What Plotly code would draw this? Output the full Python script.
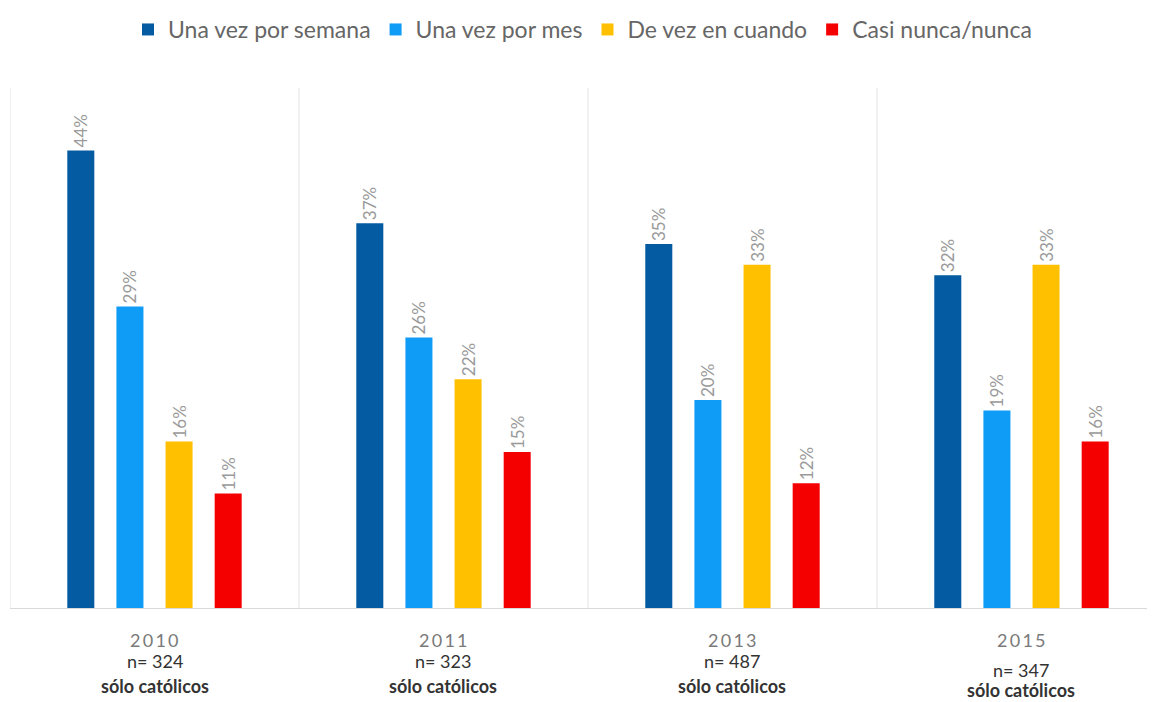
import plotly.graph_objects as go

years = ["2010", "2011", "2013", "2015"]
sample_n = ["324", "323", "487", "347"]
series_names = ["Una vez por semana", "Una vez por mes", "De vez en cuando", "Casi nunca/nunca"]
semana = [44, 37, 35, 32]
mes = [29, 26, 20, 19]
de_vez = [16, 22, 33, 33]
casi_nunca = [11, 15, 12, 16]
colors = ["#045BA1", "#0E9CF6", "#FFC000", "#F50000"]

FONT = "Lato"
fig = go.Figure()
for name, vals, col in zip(series_names, [semana, mes, de_vez, casi_nunca], colors):
    fig.add_trace(go.Bar(
        x=years, y=vals, name=name, marker=dict(color=col, line=dict(width=0)),
        text=[f"{v}%" for v in vals], textposition="outside", textangle=-90,
        constraintext="none",
        textfont=dict(family=FONT, size=17, color="#9a9a9a"), cliponaxis=False,
    ))

shapes = []
for xv in [-0.5, 0.5, 1.5, 2.5]:
    shapes.append(dict(type="line", xref="x", yref="y", x0=xv, x1=xv, y0=0, y1=50,
                       line=dict(color="#e3e3e3", width=1)))

annotations = []
for i, (yr, n) in enumerate(zip(years, sample_n)):
    off = 9 if yr == "2015" else 0
    annotations.append(dict(xref="x", yref="paper", x=i, y=0, yshift=-32, xanchor="center", yanchor="middle",
                            text="\u2009".join(yr), showarrow=False,
                            font=dict(family=FONT, size=18, color="#7a7a7a")))
    annotations.append(dict(xref="x", yref="paper", x=i, y=0, yshift=-53 - off, xanchor="center", yanchor="middle",
                            text=f"n= {n}", showarrow=False,
                            font=dict(family=FONT, size=18, color="#333333")))
    annotations.append(dict(xref="x", yref="paper", x=i, y=0, yshift=-78 - (4 if off else 0), xanchor="center", yanchor="middle",
                            text="<b>sólo católicos</b>", showarrow=False,
                            font=dict(family=FONT, size=18, color="#333333")))

fig.update_layout(
    width=1147, height=694, barmode="group", bargap=0.32, bargroupgap=0.45,
    margin=dict(l=2, r=0, t=80, b=94),
    paper_bgcolor="white", plot_bgcolor="white",
    font=dict(family=FONT),
    legend=dict(orientation="h", x=0.5, xanchor="center", y=1.0, yref="container", yanchor="top",
                font=dict(family=FONT, size=23, color="#666666"), itemwidth=30, tracegroupgap=0,
                traceorder="normal"),
    xaxis=dict(range=[-0.5, 3.462], showticklabels=False, showgrid=False, zeroline=False,
               showline=True, linecolor="#d9d9d9", linewidth=1, ticks=""),
    yaxis=dict(range=[0, 50], showticklabels=False, showgrid=False, zeroline=False, showline=False),
    shapes=shapes, annotations=annotations, showlegend=True,
)
fig.write_html("out.html")
